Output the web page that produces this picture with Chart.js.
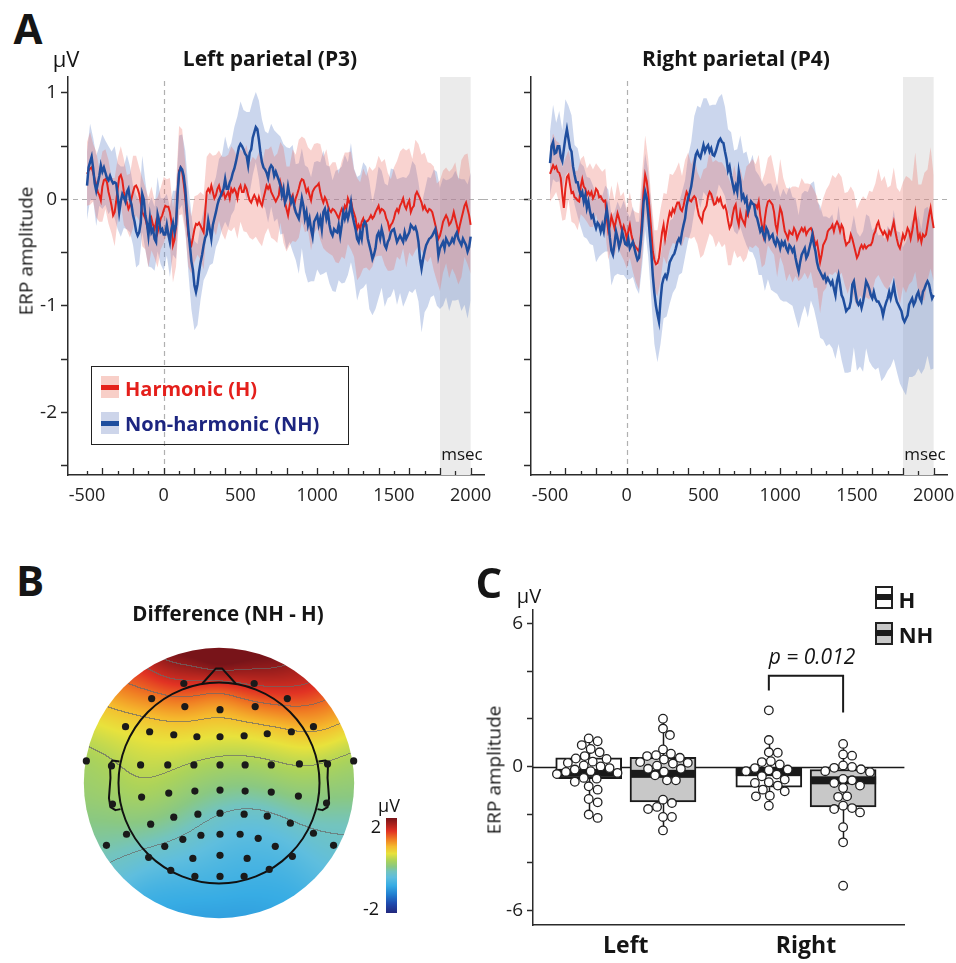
<!DOCTYPE html>
<html><head><meta charset="utf-8">
<script src="https://cdn.jsdelivr.net/npm/chart.js@4.4.1/dist/chart.umd.min.js"></script>
<style>
html,body{margin:0;padding:0;background:#fff;}
body{width:956px;height:963px;position:relative;overflow:hidden;font-family:"Open Sans","Noto Sans",sans-serif;color:#151515;}
canvas{position:absolute;}
.t{position:absolute;white-space:nowrap;line-height:1;transform:translate(-50%,-50%);}
.tl{position:absolute;white-space:nowrap;line-height:1;transform:translateY(-50%);}
.b{font-weight:700;}
.box{position:absolute;box-sizing:border-box;}
</style></head><body>
<canvas id="cAL" width="500" height="450" style="left:0;top:70px"></canvas>
<canvas id="cAR" width="473" height="450" style="left:483px;top:70px"></canvas>
<canvas id="cB" width="340" height="315" style="left:60px;top:625px"></canvas>
<canvas id="cC" width="440" height="363" style="left:470px;top:600px"></canvas>

<div class="t b" style="left:28px;top:28px;font-size:42px">A</div>
<div class="t b" style="left:30px;top:580px;font-size:42px">B</div>
<div class="t b" style="left:489px;top:582px;font-size:42px">C</div>

<div class="t" style="left:66px;top:58px;font-size:22px">μV</div>
<div class="t b" style="left:270px;top:58px;font-size:21px">Left parietal (P3)</div>
<div class="t b" style="left:736px;top:58px;font-size:21px">Right parietal (P4)</div>
<div class="t" style="left:26px;top:251px;font-size:19px;transform:translate(-50%,-50%) rotate(-90deg)">ERP amplitude</div>
<div class="t" style="left:462px;top:453px;font-size:17px">msec</div>
<div class="t" style="left:925px;top:453px;font-size:17px">msec</div>

<div class="box" style="left:91px;top:366px;width:258px;height:79px;border:1.5px solid #222"></div>
<div class="box" style="left:101px;top:376px;width:18px;height:22px;background:#f8cfc8"></div>
<div class="box" style="left:101px;top:385px;width:18px;height:5px;background:#e5231b"></div>
<div class="tl b" style="left:125px;top:389px;font-size:20px;color:#e41f1b">Harmonic (H)</div>
<div class="box" style="left:101px;top:412px;width:18px;height:22px;background:#cdd5ea"></div>
<div class="box" style="left:101px;top:421px;width:18px;height:5px;background:#1f4e9e"></div>
<div class="tl b" style="left:125px;top:424px;font-size:20px;color:#1c2580">Non-harmonic (NH)</div>

<div class="t b" style="left:228px;top:613px;font-size:20.5px">Difference (NH - H)</div>
<div class="t" style="left:389px;top:805px;font-size:18px">μV</div>
<div class="t" style="left:376px;top:826px;font-size:18px">2</div>
<div class="t" style="left:371px;top:908px;font-size:18px">-2</div>

<div class="t" style="left:529px;top:596px;font-size:20px">μV</div>
<div class="t" style="left:494px;top:770px;font-size:19px;transform:translate(-50%,-50%) rotate(-90deg)">ERP amplitude</div>
<div class="box" style="left:875px;top:586px;width:18px;height:23px;background:#fff;border:2px solid #222"></div>
<div class="box" style="left:875px;top:594px;width:18px;height:6px;background:#1a1a1a"></div>
<div class="t b" style="left:907px;top:599px;font-size:22px">H</div>
<div class="box" style="left:875px;top:622px;width:18px;height:23px;background:#c8c8c8;border:2px solid #222"></div>
<div class="box" style="left:875px;top:630px;width:18px;height:6px;background:#1a1a1a"></div>
<div class="t b" style="left:916px;top:634px;font-size:22px">NH</div>
<div class="t" style="left:812px;top:656px;font-size:21px;font-style:italic">p = 0.012</div>

<script>
// ---------------- Panel A data (µV), means every 10 ms from -500 ms ----------------
const timeStart = -500, timeStep = 10, bandStep = 20;

const leftH = [
0.24,0.27,0.29,0.30,0.25,0.19,0.14,0.07,0.04,-0.01,
0.12,0.18,0.19,0.16,0.07,0.01,-0.06,-0.15,-0.12,-0.02,
0.10,0.21,0.23,0.18,0.07,0.01,-0.03,-0.09,-0.06,0.01,
0.07,0.12,0.13,0.10,0.05,-0.03,-0.12,-0.15,-0.18,-0.24,
-0.31,-0.24,-0.18,-0.24,-0.28,-0.21,-0.31,-0.25,-0.18,-0.15,
-0.10,-0.06,-0.07,-0.07,-0.12,-0.21,-0.43,-0.38,-0.25,0.05,
0.27,0.30,0.26,0.15,0.02,-0.15,-0.33,-0.40,-0.43,-0.36,
-0.28,-0.23,-0.24,-0.22,-0.25,-0.28,-0.31,-0.12,0.07,0.10,
0.07,0.13,0.07,0.01,0.04,0.10,0.13,0.07,0.04,0.07,
0.01,0.04,0.07,0.01,0.10,0.07,0.10,0.07,0.01,0.10,
0.13,0.07,0.07,0.13,0.10,0.04,-0.01,-0.03,0.01,0.04,
0.01,-0.04,0.02,-0.03,-0.06,0.01,0.07,0.13,0.10,0.13,
0.07,0.04,0.01,-0.02,0.01,0.04,
0.16,0.10,0.04,-0.03,-0.09,-0.15,-0.06,0.01,0.04,-0.06,
0.01,0.05,0.10,0.16,0.19,0.18,0.13,0.07,0.10,0.04,
-0.01,0.07,0.10,0.12,0.13,0.15,0.07,0.01,-0.03,0.02,
-0.01,-0.06,-0.10,-0.12,-0.09,-0.10,-0.12,-0.15,-0.18,-0.13,
-0.09,-0.12,-0.06,-0.09,0.01,-0.03,-0.01,-0.09,-0.13,-0.18,
-0.28,-0.24,-0.28,-0.21,-0.18,-0.24,-0.21,-0.20,-0.18,-0.15,
-0.18,-0.16,-0.12,-0.09,-0.06,-0.12,-0.09,-0.10,-0.12,-0.18,
-0.21,-0.28,-0.24,-0.22,-0.18,-0.12,-0.09,-0.12,-0.06,-0.03,
0.01,-0.06,-0.09,-0.04,-0.01,-0.12,-0.08,-0.06,0.04,0.07,
0.04,0.01,-0.03,-0.09,-0.06,-0.10,-0.12,-0.09,-0.10,-0.12,
-0.18,-0.24,-0.31,-0.37,-0.34,-0.28,-0.21,-0.18,-0.15,-0.18,
-0.24,-0.22,-0.18,-0.12,-0.18,-0.24,-0.31,-0.24,-0.18,-0.12,
-0.06,-0.03,-0.09,-0.15,-0.24];

const leftNH = [
0.13,0.30,0.35,0.40,0.29,0.15,0.08,0.15,0.22,0.32,
0.26,0.30,0.25,0.20,0.18,0.22,0.18,0.15,0.16,0.15,
0.03,-0.12,-0.02,0.05,0.02,-0.02,0.07,0.10,0.00,-0.05,
-0.15,-0.21,-0.30,-0.34,-0.31,-0.22,0.05,0.00,-0.15,-0.22,
-0.34,-0.18,-0.31,-0.28,-0.37,-0.40,-0.14,-0.20,-0.30,-0.28,
-0.33,-0.33,-0.24,-0.33,-0.40,-0.28,-0.22,-0.31,-0.24,0.05,
0.25,0.30,0.28,0.22,0.10,-0.10,-0.28,-0.43,-0.58,-0.66,
-0.81,-0.87,-0.80,-0.68,-0.59,-0.52,-0.43,-0.36,-0.33,-0.20,
-0.28,-0.37,-0.24,-0.18,-0.12,-0.05,0.00,0.03,0.07,0.10,
0.19,0.10,0.10,0.16,0.19,0.25,0.29,0.35,0.42,0.49,
0.52,0.50,0.47,0.43,0.41,0.32,0.44,0.47,0.58,0.63,
0.68,0.66,0.56,0.44,0.35,0.30,0.28,0.25,0.20,0.29,
0.32,0.30,0.22,0.26,0.22,0.18,
0.13,0.04,0.10,-0.03,0.01,0.12,0.04,-0.03,0.01,-0.06,
-0.12,-0.15,-0.18,-0.09,0.01,-0.06,-0.18,-0.12,-0.24,-0.18,
-0.28,-0.35,-0.21,-0.18,-0.15,-0.24,-0.18,-0.28,-0.12,-0.09,
-0.18,-0.12,-0.24,-0.31,-0.34,-0.28,-0.30,-0.31,-0.24,-0.34,
-0.24,-0.12,-0.18,-0.12,-0.18,-0.12,-0.03,-0.15,-0.22,-0.28,
-0.37,-0.40,-0.31,-0.37,-0.24,-0.21,-0.24,-0.37,-0.43,-0.49,
-0.56,-0.52,-0.46,-0.34,-0.31,-0.37,-0.28,-0.34,-0.43,-0.46,
-0.40,-0.37,-0.31,-0.29,-0.28,-0.34,-0.40,-0.37,-0.34,-0.37,
-0.40,-0.31,-0.37,-0.34,-0.31,-0.24,-0.26,-0.28,-0.26,-0.31,
-0.40,-0.56,-0.65,-0.56,-0.49,-0.43,-0.40,-0.37,-0.36,-0.34,
-0.31,-0.28,-0.37,-0.53,-0.46,-0.43,-0.40,-0.46,-0.37,-0.40,
-0.43,-0.41,-0.37,-0.40,-0.34,-0.31,-0.37,-0.40,-0.43,-0.37,
-0.40,-0.43,-0.49,-0.45,-0.35];

const rightH = [
0.24,0.28,0.32,0.29,0.31,0.26,0.25,0.20,0.05,-0.08,
0.10,0.21,0.23,0.14,0.06,0.07,0.02,0.01,-0.01,-0.02,
0.12,0.19,0.12,0.10,0.04,0.07,0.04,0.07,0.01,0.04,
0.10,0.08,0.02,0.03,0.00,-0.02,-0.01,-0.18,-0.30,-0.25,
-0.16,-0.21,-0.27,-0.20,-0.13,-0.18,-0.24,-0.30,-0.25,-0.30,
-0.37,-0.30,-0.24,-0.33,-0.39,-0.43,-0.45,-0.47,-0.49,-0.38,
-0.15,0.08,0.23,0.17,0.05,-0.12,-0.30,-0.49,-0.57,-0.61,
-0.60,-0.55,-0.43,-0.31,-0.24,-0.37,-0.28,-0.19,-0.12,-0.15,
-0.09,-0.12,-0.07,-0.03,-0.03,-0.09,-0.11,-0.06,0.01,0.07,
0.04,-0.01,-0.02,0.01,0.03,0.01,-0.08,-0.15,-0.18,-0.21,
-0.12,-0.09,-0.06,0.03,0.07,0.05,0.00,-0.05,-0.04,0.01,
-0.02,0.01,-0.05,-0.08,-0.06,-0.11,-0.20,-0.27,-0.24,-0.15,
-0.08,
-0.05,-0.18,-0.24,-0.12,-0.18,-0.21,-0.24,-0.12,-0.15,-0.05,
-0.02,-0.04,-0.05,-0.05,-0.08,-0.02,-0.15,-0.24,-0.33,-0.18,
-0.08,-0.02,-0.01,-0.03,-0.05,-0.12,-0.24,-0.30,-0.18,-0.08,
-0.12,-0.21,-0.30,-0.33,-0.37,-0.30,-0.32,-0.33,-0.27,-0.30,
-0.37,-0.33,-0.30,-0.27,-0.30,-0.27,-0.33,-0.30,-0.28,-0.27,
-0.30,-0.37,-0.43,-0.40,-0.49,-0.59,-0.52,-0.43,-0.40,-0.37,
-0.30,-0.28,-0.27,-0.24,-0.30,-0.24,-0.21,-0.24,-0.30,-0.24,
-0.27,-0.37,-0.43,-0.41,-0.40,-0.33,-0.37,-0.43,-0.49,-0.55,
-0.52,-0.46,-0.43,-0.46,-0.43,-0.46,-0.44,-0.43,-0.43,-0.40,
-0.33,-0.30,-0.24,-0.21,-0.27,-0.30,-0.33,-0.30,-0.33,-0.37,
-0.30,-0.33,-0.27,-0.21,-0.30,-0.37,-0.43,-0.46,-0.40,-0.33,
-0.37,-0.33,-0.27,-0.30,-0.37,-0.30,-0.21,-0.12,-0.24,-0.37,
-0.33,-0.40,-0.33,-0.35,-0.33,-0.24,-0.15,-0.08,-0.18,-0.27];

const rightNH = [
0.34,0.50,0.54,0.43,0.44,0.50,0.50,0.40,0.36,0.47,
0.58,0.66,0.57,0.48,0.45,0.31,0.23,0.16,0.16,0.09,
0.04,0.07,-0.02,0.04,-0.08,-0.02,-0.11,-0.17,-0.15,-0.22,
-0.27,-0.22,-0.24,-0.30,-0.24,-0.30,-0.18,-0.09,-0.20,-0.36,
-0.48,-0.52,-0.42,-0.30,-0.36,-0.45,-0.40,-0.30,-0.36,-0.42,
-0.43,-0.37,-0.46,-0.43,-0.40,-0.46,-0.52,-0.57,-0.55,-0.42,
-0.25,-0.02,0.07,0.01,-0.14,-0.33,-0.50,-0.72,-0.88,-1.00,
-1.08,-1.15,-0.95,-0.80,-0.74,-0.71,-0.74,-0.68,-0.59,-0.56,
-0.53,-0.51,-0.46,-0.40,-0.37,-0.40,-0.31,-0.24,-0.18,-0.06,
0.01,0.06,0.12,0.22,0.33,0.42,0.45,0.41,0.39,0.45,
0.51,0.45,0.49,0.51,0.45,0.48,0.42,0.41,0.45,0.50,
0.55,0.57,0.54,0.53,0.45,0.38,0.27,0.31,0.22,0.15,
0.08,
0.13,0.07,0.26,0.17,0.01,0.04,-0.02,0.01,-0.12,-0.08,
-0.02,-0.04,-0.05,-0.15,-0.18,-0.24,-0.30,-0.27,-0.33,-0.37,
-0.27,-0.30,-0.37,-0.35,-0.33,-0.40,-0.43,-0.37,-0.40,-0.46,
-0.40,-0.43,-0.40,-0.46,-0.49,-0.43,-0.45,-0.49,-0.46,-0.55,
-0.62,-0.68,-0.59,-0.52,-0.49,-0.46,-0.55,-0.52,-0.46,-0.40,
-0.33,-0.43,-0.49,-0.59,-0.65,-0.68,-0.71,-0.74,-0.71,-0.77,
-0.74,-0.77,-0.80,-0.77,-0.84,-0.90,-0.77,-0.71,-0.80,-0.90,
-0.93,-0.99,-1.05,-1.03,-1.02,-0.96,-0.80,-0.77,-0.87,-0.96,
-0.99,-0.96,-1.02,-0.96,-0.87,-0.77,-0.80,-0.84,-0.90,-0.93,
-0.87,-0.93,-0.96,-0.96,-0.99,-1.02,-1.09,-1.02,-0.97,-0.93,
-0.87,-0.93,-0.87,-0.80,-0.90,-0.96,-0.99,-1.02,-1.05,-1.12,
-1.15,-1.12,-1.09,-0.99,-0.96,-0.93,-0.99,-0.96,-0.90,-0.87,
-0.93,-0.96,-0.87,-0.84,-0.80,-0.77,-0.80,-0.87,-0.93,-0.90];

// band half-widths (µV) every 20 ms from -500 ms
const leftHsem = [
0.30,0.34,0.27,0.31,0.25,0.33,0.28,0.30,0.26,0.32,0.29,
0.27,0.31,0.26,0.30,0.34,0.28,0.25,0.32,0.29,0.33,
0.30,0.27,0.33,0.29,0.31,0.26,0.32,0.35,0.38,0.42,
0.40,0.33,0.30,0.27,0.31,0.28,0.32,0.35,0.33,0.37,
0.34,0.38,0.33,0.36,0.39,0.35,0.40,0.36,0.38,0.34,
0.37,0.41,0.35,0.39,0.36,0.42,0.38,0.40,0.37,0.43,
0.39,0.42,0.38,0.45,0.40,0.37,0.43,0.41,0.46,0.40,
0.44,0.39,0.47,0.42,0.40,0.45,0.43,0.48,0.41,0.44,
0.47,0.42,0.45,0.50,0.43,0.46,0.41,0.48,0.44,0.47,
0.43,0.49,0.45,0.42,0.47,0.44,0.50,0.46,0.43,0.48,
0.45,0.51,0.47,0.55,0.49,0.46,0.52,0.48,0.45,0.50,
0.47,0.44,0.49,0.46,0.52,0.48,0.45,0.50,0.47,0.53,
0.49,0.55,0.48,0.52,0.46];
const leftNHsem = [
0.32,0.36,0.29,0.33,0.28,0.35,0.30,0.32,0.27,0.34,0.31,
0.33,0.29,0.35,0.31,0.28,0.34,0.30,0.36,0.32,0.29,
0.33,0.30,0.35,0.31,0.34,0.29,0.33,0.30,0.32,0.35,
0.33,0.36,0.40,0.45,0.42,0.38,0.35,0.33,0.37,0.34,
0.36,0.33,0.38,0.35,0.40,0.37,0.34,0.39,0.36,0.40,
0.37,0.41,0.38,0.35,0.33,0.37,0.40,0.36,0.42,0.39,
0.43,0.40,0.46,0.42,0.48,0.44,0.50,0.45,0.52,0.47,
0.50,0.54,0.49,0.56,0.51,0.53,0.58,0.50,0.55,0.52,
0.57,0.52,0.55,0.60,0.53,0.56,0.51,0.58,0.54,0.59,
0.55,0.60,0.53,0.57,0.62,0.55,0.58,0.53,0.60,0.56,
0.59,0.54,0.61,0.57,0.55,0.62,0.58,0.56,0.60,0.57,
0.61,0.56,0.59,0.63,0.57,0.60,0.55,0.62,0.58,0.61,
0.57,0.62,0.59,0.63,0.60];
const rightHsem = [
0.26,0.30,0.24,0.28,0.25,0.29,0.23,0.27,0.25,0.28,0.26,
0.29,0.25,0.30,0.27,0.24,0.28,0.26,0.30,0.27,0.29,
0.26,0.30,0.27,0.32,0.28,0.31,0.29,0.33,0.36,0.40,
0.37,0.33,0.30,0.28,0.31,0.34,0.30,0.33,0.36,0.32,
0.35,0.38,0.33,0.36,0.40,0.35,0.38,0.34,0.37,0.40,
0.36,0.39,0.35,0.41,0.37,0.40,0.36,0.42,0.38,0.40,
0.37,0.41,0.38,0.43,0.39,0.42,0.38,0.44,0.40,0.43,
0.41,0.45,0.40,0.43,0.46,0.41,0.44,0.40,0.45,0.42,
0.44,0.47,0.42,0.45,0.41,0.46,0.43,0.48,0.44,0.46,
0.42,0.47,0.44,0.49,0.45,0.43,0.48,0.45,0.50,0.46,
0.44,0.49,0.46,0.51,0.47,0.45,0.50,0.47,0.52,0.48,
0.46,0.51,0.48,0.53,0.49,0.55,0.50,0.47,0.56,0.51,
0.54,0.60,0.52,0.57,0.50];
const rightNHsem = [
0.30,0.35,0.28,0.33,0.29,0.36,0.31,0.34,0.28,0.32,0.30,
0.33,0.29,0.31,0.28,0.32,0.30,0.27,0.31,0.29,0.33,
0.30,0.34,0.31,0.35,0.32,0.29,0.33,0.31,0.34,0.38,
0.36,0.40,0.44,0.48,0.45,0.41,0.38,0.36,0.39,0.35,
0.37,0.34,0.38,0.36,0.40,0.42,0.45,0.43,0.47,0.44,
0.46,0.43,0.47,0.44,0.41,0.45,0.42,0.39,0.41,0.38,
0.40,0.43,0.39,0.44,0.41,0.46,0.42,0.47,0.44,0.49,
0.45,0.50,0.47,0.52,0.48,0.53,0.50,0.55,0.51,0.56,
0.53,0.57,0.54,0.59,0.55,0.60,0.57,0.62,0.58,0.61,
0.59,0.63,0.60,0.65,0.61,0.64,0.60,0.66,0.62,0.65,
0.61,0.66,0.63,0.68,0.64,0.67,0.62,0.69,0.65,0.68,
0.64,0.70,0.66,0.71,0.67,0.72,0.68,0.74,0.69,0.72,
0.68,0.75,0.70,0.73,0.69];

const xTickValues = [-500,-400,-300,-200,-100,0,100,200,300,400,500,600,700,800,900,1000,1100,1200,1300,1400,1500,1600,1700,1800,1900,2000];
const xTickLabels = [-500,0,500,1000,1500,2000];
const yTickValues = [-2.5,-2,-1.5,-1,-0.5,0,0.5,1];
const yTickLabels = [-2,-1,0,1];
const shadeWindow = [1800,2000];

// ---------------- Panel B data: electrode positions (head radius = 1) and NH-H difference ----------------
const elecX = [-0.35,0.35,-0.67,0.68,-0.34,0.01,0.36,
 -0.93,-0.69,-0.45,-0.22,0.01,0.25,0.48,0.72,0.94,
 -1.32,-1.07,-0.78,-0.51,-0.25,0.01,0.26,0.52,0.80,1.08,1.34,
 -1.06,-0.77,-0.50,-0.24,0.01,0.26,0.52,0.79,1.07,
 -0.68,-0.45,-0.21,0.01,0.25,0.48,0.71,-0.92,0.94,
 -1.12,-0.54,-0.36,-0.18,0.01,0.21,0.39,0.56,1.14,
 -0.70,-0.26,0.01,0.28,0.73,
 -0.48,-0.24,0.01,0.25,0.50];
const elecY = [0.99,0.99,0.84,0.84,0.76,0.73,0.76,
 0.56,0.51,0.48,0.46,0.46,0.47,0.49,0.51,0.56,
 0.22,0.17,0.18,0.18,0.18,0.18,0.18,0.18,0.19,0.19,0.22,
 -0.21,-0.14,-0.10,-0.08,-0.07,-0.08,-0.09,-0.13,-0.20,
 -0.41,-0.34,-0.31,-0.30,-0.31,-0.33,-0.40,-0.51,-0.50,
 -0.62,-0.63,-0.56,-0.52,-0.51,-0.51,-0.55,-0.63,-0.62,
 -0.74,-0.75,-0.72,-0.75,-0.73,
 -0.87,-0.93,-0.93,-0.93,-0.86];
const elecDiff = [1.60,1.70,1.00,1.45,1.05,0.95,1.15,
 0.40,0.55,0.60,0.55,0.50,0.50,0.55,0.65,0.95,
 0.05,0.20,0.35,0.30,0.15,0.05,0.05,0.15,0.25,0.15,0.00,
 0.10,0.25,0.20,0.05,0.05,0.00,0.05,0.10,-0.05,
 0.00,-0.05,-0.15,-0.30,-0.45,-0.40,-0.30,-0.10,-0.25,
 -0.15,-0.20,-0.25,-0.40,-0.55,-0.60,-0.60,-0.60,-0.35,
 -0.45,-0.50,-0.62,-0.65,-0.65,
 -0.85,-0.80,-0.80,-0.85,-0.85];
// map edge (radius 1.3), angle in degrees and value
const rimAngle = [0,20,35,50,70,90,110,130,145,160,180,200,220,240,260,280,300,320,340];
const rimDiff  = [0.0,0.6,1.15,1.9,2.25,2.35,2.25,1.55,0.85,0.4,0.05,-0.1,-0.5,-0.9,-1.0,-1.0,-0.9,-0.6,-0.3];
const contourLevels = [-0.3,0.25,0.75,1.2,1.55,1.85];
const colorRange = [-2,2];

// ---------------- Panel C data ----------------
const categories = ['Left','Right'];
const conditions = ['H','NH'];
const boxQ1  = {H:[-0.49,-0.85], NH:[-1.46,-1.67]};
const boxMed = {H:[-0.25,-0.22], NH:[-0.29,-0.56]};
const boxQ3  = {H:[0.38,-0.02],  NH:[0.40,-0.11]};
const whiskLo = {H:[-2.13,-1.65], NH:[-2.65,-3.15]};
const whiskHi = {H:[1.19,1.12],   NH:[2.00,0.96]};
const dotsLeftH = [1.19,1.07,0.91,0.75,0.61,0.45,0.35,0.33,0.22,0.17,0.06,0.02,-0.05,-0.11,-0.18,-0.21,-0.25,-0.30,-0.46,-0.49,-0.62,-0.81,-0.95,-1.34,-1.48,-1.99,-2.13];
const dotsLeftNH = [2.01,1.60,1.33,0.73,0.55,0.49,0.45,0.38,0.31,0.20,0.17,0.14,0.05,-0.08,-0.08,-0.20,-0.35,-0.56,-0.56,-1.37,-1.51,-1.67,-1.76,-2.09,-2.09,-2.65];
const dotsRightH = [2.36,1.12,0.61,0.59,0.24,0.20,0.10,-0.05,-0.11,-0.14,-0.18,-0.32,-0.39,-0.53,-0.64,-0.67,-0.78,-0.95,-1.02,-1.20,-1.23,-1.62];
const dotsRightNH = [0.96,0.52,0.47,0.06,0.00,-0.04,-0.10,-0.18,-0.22,-0.50,-0.56,-0.67,-0.78,-0.88,-1.23,-1.25,-1.62,-1.72,-1.76,-1.90,-2.52,-3.15,-4.96];
const pValueBracket = {top:3.81, leftEnd:3.19, rightEnd:2.27};
const cYTicks = [-6,-4,-2,0,2,4,6];
const cYLabels = [-6,0,6];

// ---------------- styling ----------------
const FAMILY = '"Open Sans","Noto Sans",sans-serif';
const AX = '#2b2b2b';
const H_COLOR = '#e5231b', NH_COLOR = '#1f4e9e';
const H_BAND = 'rgba(235,110,100,0.30)', NH_BAND = 'rgba(110,140,205,0.36)';
Chart.defaults.font.family = FAMILY;
Chart.defaults.color = '#222';

function seriesPoints(vals){ return vals.map((v,i)=>({x: timeStart + i*timeStep, y: v})); }
function bandPoints(vals, hw, sign){
  const r = bandStep / timeStep;
  return hw.map((h,k)=>({x: timeStart + k*bandStep, y: vals[k*r] + sign*h}));
}
function noPadX(s){ s.paddingLeft = 0; s.paddingRight = 0; }
function noPadY(s){ s.paddingTop = 0; s.paddingBottom = 0; }

const erpBackground = {
  id:'erpBackground',
  beforeDatasetsDraw(chart, args, o){
    const {ctx, chartArea:a, scales:{x,y}} = chart;
    ctx.save();
    ctx.fillStyle = '#ebebeb';
    const x1 = x.getPixelForValue(shadeWindow[0]), x2 = x.getPixelForValue(shadeWindow[1]);
    ctx.fillRect(x1, a.top, x2-x1, a.bottom-a.top);
    ctx.setLineDash([5,4]); ctx.strokeStyle = '#b0b0b0'; ctx.lineWidth = 1.2;
    const y0 = Math.round(y.getPixelForValue(0)) + 0.5;
    ctx.beginPath(); ctx.moveTo(o.zeroFrom, y0); ctx.lineTo(a.right, y0); ctx.stroke();
    const x0 = Math.round(x.getPixelForValue(0)) + 0.5;
    ctx.beginPath(); ctx.moveTo(x0, a.top + 4); ctx.lineTo(x0, a.bottom); ctx.stroke();
    ctx.restore();
  }
};
const xTickMarks = {
  id:'xTickMarks',
  afterDraw(chart){
    const s = chart.scales.x, ctx = chart.ctx, yb = chart.chartArea.bottom;
    ctx.save(); ctx.strokeStyle = AX; ctx.lineWidth = 1.3;
    s.ticks.forEach(t=>{
      const x = Math.round(s.getPixelForValue(t.value)) + 0.5;
      const len = (t.value % 200 === 0) ? 7 : 4;
      ctx.beginPath(); ctx.moveTo(x, yb); ctx.lineTo(x, yb - len); ctx.stroke();
    });
    ctx.restore();
  }
};

function erpChart(id, H, NH, hwH, hwNH, yWidth, rightPad, showY, zeroFrom){
  const none = 'rgba(0,0,0,0)';
  return new Chart(document.getElementById(id), {
    type:'line',
    data:{datasets:[
      {label:'Non-harmonic (NH)', data:seriesPoints(NH), borderColor:NH_COLOR, borderWidth:2.5, pointRadius:0, fill:false, order:0},
      {label:'Harmonic (H)', data:seriesPoints(H), borderColor:H_COLOR, borderWidth:2, pointRadius:0, fill:false, order:1},
      {label:'NH upper', data:bandPoints(NH,hwNH,1), borderColor:none, borderWidth:0, pointRadius:0, backgroundColor:NH_BAND, fill:'+1', order:3},
      {label:'NH lower', data:bandPoints(NH,hwNH,-1), borderColor:none, borderWidth:0, pointRadius:0, fill:false, order:3},
      {label:'H upper', data:bandPoints(H,hwH,1), borderColor:none, borderWidth:0, pointRadius:0, backgroundColor:H_BAND, fill:'+1', order:2},
      {label:'H lower', data:bandPoints(H,hwH,-1), borderColor:none, borderWidth:0, pointRadius:0, fill:false, order:2}
    ]},
    options:{
      responsive:false, animation:false, events:[],
      elements:{line:{tension:0}},
      layout:{padding:{top:7, right:rightPad, left:0, bottom:0}},
      plugins:{legend:{display:false}, tooltip:{enabled:false}, erpBackground:{zeroFrom:zeroFrom}},
      scales:{
        x:{type:'linear', min:-624, max:2087, offset:false,
           afterBuildTicks:s=>{ s.ticks = xTickValues.map(v=>({value:v})); },
           afterFit:s=>{ s.height = 45; noPadX(s); },
           grid:{display:false, drawTicks:false},
           border:{display:true, color:AX, width:1.5},
           ticks:{autoSkip:false, maxRotation:0, minRotation:0, padding:10, color:'#222', font:{size:18},
                  callback:v=> xTickLabels.includes(v) ? String(v) : ''}},
        y:{type:'linear', min:-2.59, max:1.15,
           afterBuildTicks:s=>{ s.ticks = yTickValues.map(v=>({value:v})); },
           afterFit:s=>{ s.width = yWidth; noPadY(s); },
           grid:{drawOnChartArea:false, drawTicks:true, tickLength:7, tickColor:AX, tickWidth:1.5},
           border:{display:true, color:AX, width:1.5},
           ticks:{padding:4, color:'#222', font:{size:19},
                  callback:v=> (showY && yTickLabels.includes(v)) ? String(v) : ''}}
      }
    },
    plugins:[erpBackground, xTickMarks]
  });
}

erpChart('cAL', leftH, leftNH, leftHsem, leftNHsem, 68, 16, true, 73);
erpChart('cAR', rightH, rightNH, rightHsem, rightNHsem, 48, 9, false, 0);

// ---------------- Panel B: topographic map ----------------
const cmapStops = [[-2.0,35,40,125],[-1.6,30,75,175],[-1.2,35,130,210],[-0.85,55,172,228],[-0.5,95,190,222],
  [-0.25,115,196,190],[-0.05,138,200,130],[0.2,172,211,90],[0.5,232,226,60],[0.8,245,185,45],[1.1,240,125,35],[1.45,225,50,35],[2.0,120,20,25]];
function cmap(v){
  const s = cmapStops;
  if (v <= s[0][0]) return [s[0][1],s[0][2],s[0][3]];
  for (let i=1;i<s.length;i++){
    if (v <= s[i][0]){
      const f = (v - s[i-1][0])/(s[i][0]-s[i-1][0]);
      return [0,1,2].map(c=> s[i-1][c+1] + f*(s[i][c+1]-s[i-1][c+1]));
    }
  }
  const l = s[s.length-1]; return [l[1],l[2],l[3]];
}
const DISC = 1.345, SIGMA = 0.22, RIM_R = 1.3;
const topoPlugin = {
  id:'topo',
  beforeDatasetsDraw(chart){
    const {ctx, scales:{x,y}} = chart;
    const cx = x.getPixelForValue(0), cy = y.getPixelForValue(0);
    const k = x.getPixelForValue(1) - cx;
    const R = DISC * k;
    const x0 = Math.floor(cx - R) - 1, y0 = Math.floor(cy - R) - 1, n = Math.ceil(2*R) + 3;
    const sx = elecX.concat(rimAngle.map(a=>RIM_R*Math.cos(a*Math.PI/180)));
    const sy = elecY.concat(rimAngle.map(a=>RIM_R*Math.sin(a*Math.PI/180)));
    const sv = elecDiff.concat(rimDiff);
    const s2 = 2*SIGMA*SIGMA;
    const F = new Float32Array(n*n);
    for (let j=0;j<n;j++){
      const v = y.getValueForPixel(y0 + j + 0.5);
      for (let i=0;i<n;i++){
        const u = x.getValueForPixel(x0 + i + 0.5);
        if (u*u + v*v > (DISC+0.03)*(DISC+0.03)) { F[j*n+i] = NaN; continue; }
        let ws = 0, wv = 0;
        for (let p=0;p<sx.length;p++){
          const dx = u - sx[p], dy = v - sy[p];
          const w = Math.exp(-(dx*dx+dy*dy)/s2);
          ws += w; wv += w*sv[p];
        }
        F[j*n+i] = wv/ws;
      }
    }
    const off = document.createElement('canvas'); off.width = n; off.height = n;
    const octx = off.getContext('2d');
    const img = octx.createImageData(n, n);
    for (let j=0;j<n;j++){
      for (let i=0;i<n;i++){
        const f = F[j*n+i]; const q = (j*n+i)*4;
        if (isNaN(f)) { img.data[q+3] = 0; continue; }
        let c = cmap(f);
        const fr = i+1<n ? F[j*n+i+1] : NaN, fd = j+1<n ? F[(j+1)*n+i] : NaN;
        let onLine = false;
        for (const L of contourLevels){
          if ((!isNaN(fr) && (f-L)*(fr-L) < 0) || (!isNaN(fd) && (f-L)*(fd-L) < 0)) { onLine = true; break; }
        }
        if (onLine) c = c.map(ch=> ch*0.3 + 105*0.7);
        img.data[q] = c[0]; img.data[q+1] = c[1]; img.data[q+2] = c[2]; img.data[q+3] = 255;
      }
    }
    octx.putImageData(img, 0, 0);
    ctx.save();
    ctx.beginPath(); ctx.arc(cx, cy, R, 0, 2*Math.PI); ctx.clip();
    ctx.drawImage(off, x0, y0);
    ctx.restore();
    // head outline
    const P = (u,v)=>[x.getPixelForValue(u), y.getPixelForValue(v)];
    ctx.save(); ctx.strokeStyle = '#111'; ctx.lineWidth = 2; ctx.lineJoin = 'round';
    ctx.beginPath(); ctx.arc(cx, cy, k, 0, 2*Math.PI); ctx.stroke();
    const nose = [[-0.17,0.985],[-0.03,1.14],[0.03,1.14],[0.17,0.985]];
    ctx.beginPath(); nose.forEach((p,i)=>{ const q=P(p[0],p[1]); i?ctx.lineTo(q[0],q[1]):ctx.moveTo(q[0],q[1]); }); ctx.stroke();
    const ear = [[-0.99,0.215],[-1.06,0.225],[-1.085,0.19],[-1.08,0.05],[-1.095,-0.15],[-1.08,-0.24],[-1.03,-0.27],[-0.98,-0.26]];
    [1,-1].forEach(sg=>{
      ctx.beginPath(); ear.forEach((p,i)=>{ const q=P(sg*p[0],p[1]); i?ctx.lineTo(q[0],q[1]):ctx.moveTo(q[0],q[1]); }); ctx.stroke();
    });
    ctx.restore();
  },
  afterDraw(chart){
    const ctx = chart.ctx;
    const bx = 326, by = 193, bw = 11, bh = 95;
    for (let r=0;r<bh;r++){
      const v = colorRange[1] - (colorRange[1]-colorRange[0])*(r+0.5)/bh;
      const c = cmap(v);
      ctx.fillStyle = `rgb(${c[0]|0},${c[1]|0},${c[2]|0})`;
      ctx.fillRect(bx, by+r, bw, 1);
    }
  }
};
new Chart(document.getElementById('cB'), {
  type:'scatter',
  data:{datasets:[{label:'electrodes', data:elecX.map((u,i)=>({x:u, y:elecY[i]})),
    pointRadius:3.6, backgroundColor:'#1a1a1a', borderWidth:0}]},
  options:{
    responsive:false, animation:false, events:[],
    layout:{padding:{left:8.25, top:7.25, right:30.25, bottom:6.25}},
    plugins:{legend:{display:false}, tooltip:{enabled:false}},
    scales:{x:{type:'linear', min:-1.5, max:1.5, display:false}, y:{type:'linear', min:-1.5, max:1.5, display:false}}
  },
  plugins:[topoPlugin]
});

// ---------------- Panel C: box plots with individual points ----------------
const groupCenters = [0.25, 0.735], groupOffset = 0.1;
const posOf = (cond, gi) => groupCenters[gi] + (cond==='H' ? -groupOffset : groupOffset);
const dotGroups = [
  {cond:'H', gi:0, vals:dotsLeftH}, {cond:'NH', gi:0, vals:dotsLeftNH},
  {cond:'H', gi:1, vals:dotsRightH}, {cond:'NH', gi:1, vals:dotsRightNH}];

const boxPlugin = {
  id:'boxes',
  beforeDatasetsDraw(chart){
    const {ctx, chartArea:a, scales:{x,y}} = chart;
    ctx.save();
    ctx.strokeStyle = '#1a1a1a'; ctx.lineWidth = 1.5;
    const y0 = Math.round(y.getPixelForValue(0)) + 0.5;
    ctx.beginPath(); ctx.moveTo(a.left, y0); ctx.lineTo(a.right, y0); ctx.stroke();
    conditions.forEach(c=>{
      categories.forEach((cat, gi)=>{
        const px = Math.round(x.getPixelForValue(posOf(c,gi))) + 0.5;
        ctx.beginPath();
        ctx.moveTo(px, y.getPixelForValue(whiskHi[c][gi])); ctx.lineTo(px, y.getPixelForValue(boxQ3[c][gi]));
        ctx.moveTo(px, y.getPixelForValue(boxQ1[c][gi])); ctx.lineTo(px, y.getPixelForValue(whiskLo[c][gi]));
        ctx.stroke();
      });
    });
    // significance bracket for Right H vs NH
    const xl = x.getPixelForValue(posOf('H',1)), xr = x.getPixelForValue(posOf('NH',1));
    ctx.lineWidth = 2;
    ctx.beginPath();
    ctx.moveTo(xl, y.getPixelForValue(pValueBracket.leftEnd));
    ctx.lineTo(xl, y.getPixelForValue(pValueBracket.top));
    ctx.lineTo(xr, y.getPixelForValue(pValueBracket.top));
    ctx.lineTo(xr, y.getPixelForValue(pValueBracket.rightEnd));
    ctx.stroke();
    ctx.restore();
  },
  afterDatasetDraw(chart, args){
    if (args.meta.type !== 'bar') return;
    const ds = chart.data.datasets[args.index];
    const cond = ds.label; const y = chart.scales.y; const ctx = chart.ctx;
    ctx.save(); ctx.fillStyle = '#1a1a1a';
    args.meta.data.forEach((el, gi)=>{
      const ym = y.getPixelForValue(boxMed[cond][gi]);
      ctx.fillRect(el.x - el.width/2, ym - 4, el.width, 8);
    });
    ctx.restore();
  }
};

const chartC = new Chart(document.getElementById('cC'), {
  type:'bar',
  data:{datasets:[
    {type:'bar', label:'H', data:categories.map((c,gi)=>({x:posOf('H',gi), y:[boxQ1.H[gi], boxQ3.H[gi]]})),
     backgroundColor:'#ffffff', borderColor:'#1a1a1a', borderWidth:2, borderSkipped:false, barThickness:66, grouped:false, order:2},
    {type:'bar', label:'NH', data:categories.map((c,gi)=>({x:posOf('NH',gi), y:[boxQ1.NH[gi], boxQ3.NH[gi]]})),
     backgroundColor:'#c8c8c8', borderColor:'#1a1a1a', borderWidth:2, borderSkipped:false, barThickness:66, grouped:false, order:2},
    {type:'scatter', label:'participants', data:[], pointRadius:4.3, backgroundColor:'#ffffff', borderColor:'#222', borderWidth:1.3, order:1}
  ]},
  options:{
    responsive:false, animation:false, events:[],
    layout:{padding:{top:10, right:3, left:0, bottom:0}},
    plugins:{legend:{display:false}, tooltip:{enabled:false}},
    scales:{
      x:{type:'linear', min:0, max:1, offset:false,
         afterBuildTicks:s=>{ s.ticks = groupCenters.map(v=>({value:v})); },
         afterFit:s=>{ s.height = 38; noPadX(s); },
         grid:{display:false, drawTicks:false},
         border:{display:true, color:AX, width:1.5},
         ticks:{autoSkip:false, maxRotation:0, padding:8, color:'#151515', font:{size:23, weight:'bold'},
                callback:(v,i)=> categories[i]}},
      y:{type:'linear', min:-6.6, max:6.55,
         afterBuildTicks:s=>{ s.ticks = cYTicks.map(v=>({value:v})); },
         afterFit:s=>{ s.width = 63; noPadY(s); },
         grid:{drawOnChartArea:false, drawTicks:true, tickLength:6, tickColor:AX, tickWidth:1.5},
         border:{display:true, color:AX, width:1.5},
         ticks:{padding:4, color:'#222', font:{size:19}, callback:v=> cYLabels.includes(v) ? String(v) : ''}}
    }
  },
  plugins:[boxPlugin]
});

// beeswarm placement of individual points (pixel-space collision avoidance)
(function(){
  const xs = chartC.scales.x, ys = chartC.scales.y, D = 9.0;
  const pts = [];
  dotGroups.forEach(g=>{
    const cxp = xs.getPixelForValue(posOf(g.cond, g.gi));
    const placed = [];
    g.vals.slice().sort((a,b)=>b-a).forEach(v=>{
      const yp = ys.getPixelForValue(v);
      let off = 0;
      for (let s=0; s<120; s++){
        const cand = (s%2 ? 1 : -1) * Math.ceil(s/2);
        if (placed.every(p=> Math.hypot(p[0]-(cxp+cand), p[1]-yp) >= D)) { off = cand; break; }
      }
      placed.push([cxp+off, yp]);
      pts.push({x: xs.getValueForPixel(cxp+off), y: v});
    });
  });
  chartC.data.datasets[2].data = pts;
  chartC.update('none');
})();
</script>
</body></html>
